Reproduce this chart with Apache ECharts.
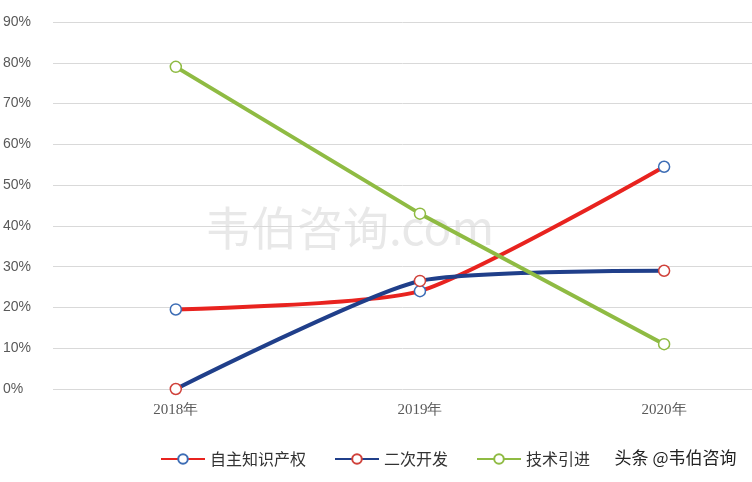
<!DOCTYPE html><html><head><meta charset="utf-8"><script src="https://cdn.jsdelivr.net/npm/echarts@6/dist/echarts.min.js"></script>
<style>html,body{margin:0;background:#fff}#c{width:752px;height:482px}</style></head><body><div id="c"></div><script>
var categories=['2018年','2019年','2020年'];
var yTicks=[0,10,20,30,40,50,60,70,80,90];
var ownIP=[19.5,24,54.5];
var secondDev=[0,26.5,29];
var tech=[79,43,11];
var names=['自主知识产权','二次开发','技术引进'];
function pts(a){return a.map(function(v,i){return [i,v];});}
var ch=echarts.init(document.getElementById('c'));
function s(name,data,color,mark,smooth){return {name:name,type:'line',data:pts(data),smooth:smooth,symbol:'circle',symbolSize:11,
lineStyle:{color:color,width:4},itemStyle:{color:'#fff',borderColor:mark,borderWidth:1.5},color:color};}
ch.setOption({animation:false,
grid:{left:52,right:0,top:22,bottom:93},
xAxis:{type:'value',min:-0.503,max:2.36,axisLine:{show:false},axisTick:{show:false},splitLine:{show:false},
 axisLabel:{customValues:[0,1,2],formatter:function(v){return categories[Math.round(v)];},color:'#595959',fontSize:15,margin:14,fontFamily:'Liberation Serif'}},
yAxis:{type:'value',min:0,max:90,interval:10,axisLine:{show:false},axisTick:{show:false},
 splitLine:{lineStyle:{color:'#d9d9d9'}},axisLabel:{formatter:'{value}%',align:'left',margin:50,color:'#595959',fontSize:14}},
legend:{bottom:10,left:155,itemGap:28,itemWidth:44,itemHeight:12,textStyle:{fontSize:16,color:'#333',fontFamily:'Noto Sans CJK SC'},data:names},
graphic:[{type:'text',left:205,top:205,style:{text:'韦伯咨询.com',fontSize:46,fill:'rgba(190,190,190,0.35)',fontFamily:'Noto Sans CJK SC'}},
{type:'text',right:14,bottom:14,style:{text:'头条 @韦伯咨询',fontSize:17,fill:'#222',fontFamily:'Noto Sans CJK SC',stroke:'#fff',lineWidth:3}}],
series:[s(names[0],ownIP,'#e8231f','#3d6db5',0.2),s(names[1],secondDev,'#203f8a','#d0413a',0.2),s(names[2],tech,'#8fbb43','#8fbb43',false)]
});
</script></body></html>
